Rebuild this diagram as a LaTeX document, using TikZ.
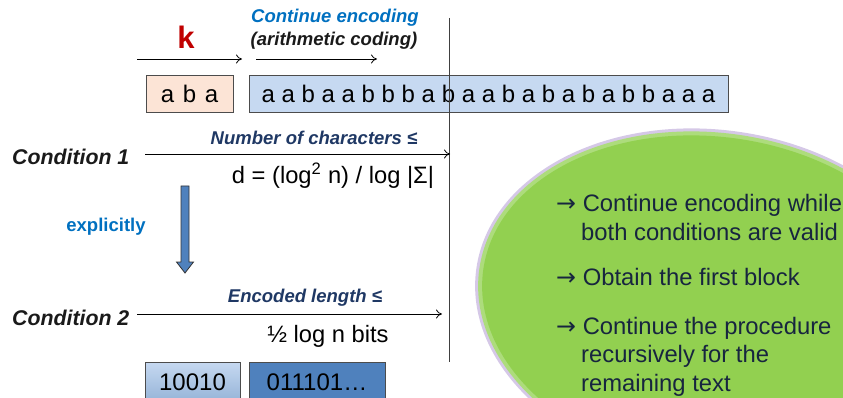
\documentclass[tikz,border=0pt]{standalone}
\usepackage{fontspec}
\setmainfont{Liberation Sans}
\newfontfamily\arrowfont{DejaVu Sans}
\usetikzlibrary{arrows.meta}
\definecolor{kred}{HTML}{C00000}
\definecolor{cblue}{HTML}{0070C0}
\definecolor{navy}{HTML}{1F3864}
\definecolor{dark}{HTML}{1A1A1A}
\definecolor{peach}{HTML}{FCE4D6}
\definecolor{lblue}{HTML}{C6D9F1}
\definecolor{mblue}{HTML}{4F81BD}
\definecolor{gblue}{HTML}{95B3D7}
\definecolor{egreen}{HTML}{92D050}
\definecolor{epurple}{HTML}{B9A3D6}
\definecolor{etext}{HTML}{17253F}
\newcommand{\rarr}{{\arrowfont →}}
\tikzset{
  thinarrow/.style={-{To[length=6pt,width=9pt]}, line width=0.8pt, draw=black},
  seqbox/.style={draw=black!70, line width=0.8pt, minimum height=37pt, inner sep=0pt, font=\fontsize{24}{24}\selectfont},
  condlabel/.style={font=\fontsize{21.3}{21.3}\selectfont\bfseries\itshape, text=dark, anchor=west, inner sep=0pt},
  toplabel/.style={font=\fontsize{18.5}{18.5}\selectfont\bfseries\itshape, text=navy},
  formula/.style={font=\fontsize{23.7}{23.7}\selectfont, text=black},
  etextstyle/.style={font=\fontsize{23.8}{23.8}\selectfont, text=etext, anchor=west, inner sep=0pt},
}
\begin{document}
\begin{tikzpicture}[x=1pt,y=-1pt]
\useasboundingbox (0,0) rectangle (843,398);
% ellipse
\begin{scope}
\clip (0,0) rectangle (843,398);
\fill[epurple!60, rotate around={-8:(714,302)}] (714,302) ellipse (240pt and 172pt);
\fill[egreen!75!white, rotate around={-8:(714,302)}] (714,302) ellipse (237pt and 169pt);
\fill[egreen, rotate around={-8:(714,302)}] (714,302) ellipse (233pt and 165pt);
\end{scope}
% top labels
\node[font=\fontsize{31}{31}\selectfont\bfseries, text=kred] (k) at (186,37) {k};
\node[toplabel, text=cblue] (cont) at (335,18) {Continue encoding};
\node[toplabel, text=dark] (arith) at (334,41) {(arithmetic coding)};
\coordinate (a1s) at (137,59);
\coordinate (a1e) at (242,59);
\coordinate (a2s) at (256,59);
\coordinate (a2e) at (377,59);
\draw[thinarrow] (a1s) -- (a1e);
\draw[thinarrow] (a2s) -- (a2e);
% sequence boxes
\node[seqbox, fill=peach, minimum width=87pt] (aba) at (189.5,93.5) {a\hspace{2pt} b\hspace{2pt} a};
\node[seqbox, fill=lblue, minimum width=479pt] (seq) at (488.5,93.5) {a a b a a b b b a b a a b a b a b a b b a a a};
% vertical line
\coordinate (vtop) at (449,18);
\coordinate (vbot) at (449,362);
\draw[line width=1pt, draw=black!75] (vtop) -- (vbot);
% condition 1
\node[condlabel] (c1) at (12,157) {Condition 1};
\coordinate (c1s) at (145,154);
\coordinate (c1e) at (450,154);
\draw[thinarrow] (c1s) -- (c1e);
\node[toplabel] (nchar) at (314,138) {Number of characters ≤};
\node[formula] (dform) at (333,176) {d = (log\textsuperscript{2} n) / log |Σ|};
% explicitly
\node[font=\fontsize{18.5}{18.5}\selectfont\bfseries, text=cblue] (expl) at (106,227) {explicitly};
\path[fill=mblue, draw=black!80, line width=0.8pt]
  (181,186) -- (189,186) -- (189,262) -- (193.5,262) -- (185,273) -- (176.5,262) -- (181,262) -- cycle;
\coordinate (down) at (185,230);
% condition 2
\node[condlabel] (c2) at (12,318) {Condition 2};
\coordinate (c2s) at (137,314);
\coordinate (c2e) at (442,314);
\draw[thinarrow] (c2s) -- (c2e);
\node[toplabel] (elen) at (305,298) {Encoded length ≤};
\node[formula] (half) at (328,336) {½ log n bits};
% bit boxes
\node[draw=black!70, line width=0.8pt, top color=lblue, bottom color=gblue, minimum width=95pt, minimum height=40pt, inner sep=0pt, font=\fontsize{24}{24}\selectfont] (b1) at (192.5,382) {10010};
\node[draw=black!70, line width=0.8pt, fill=mblue, minimum width=136pt, minimum height=40pt, inner sep=0pt, font=\fontsize{24}{24}\selectfont] (b2) at (317,382) {011101…};
% ellipse text
\node[etextstyle] (t1) at (556,205) {\rarr\ Continue encoding while};
\node[etextstyle] (t2) at (581,232) {both conditions are valid};
\node[etextstyle] (t3) at (556,277) {\rarr\ Obtain the first block};
\node[etextstyle] (t4) at (556,328) {\rarr\ Continue the procedure};
\node[etextstyle] (t5) at (581,356) {recursively for the};
\node[etextstyle] (t6) at (581,385) {remaining text};
\end{tikzpicture}
\end{document}
